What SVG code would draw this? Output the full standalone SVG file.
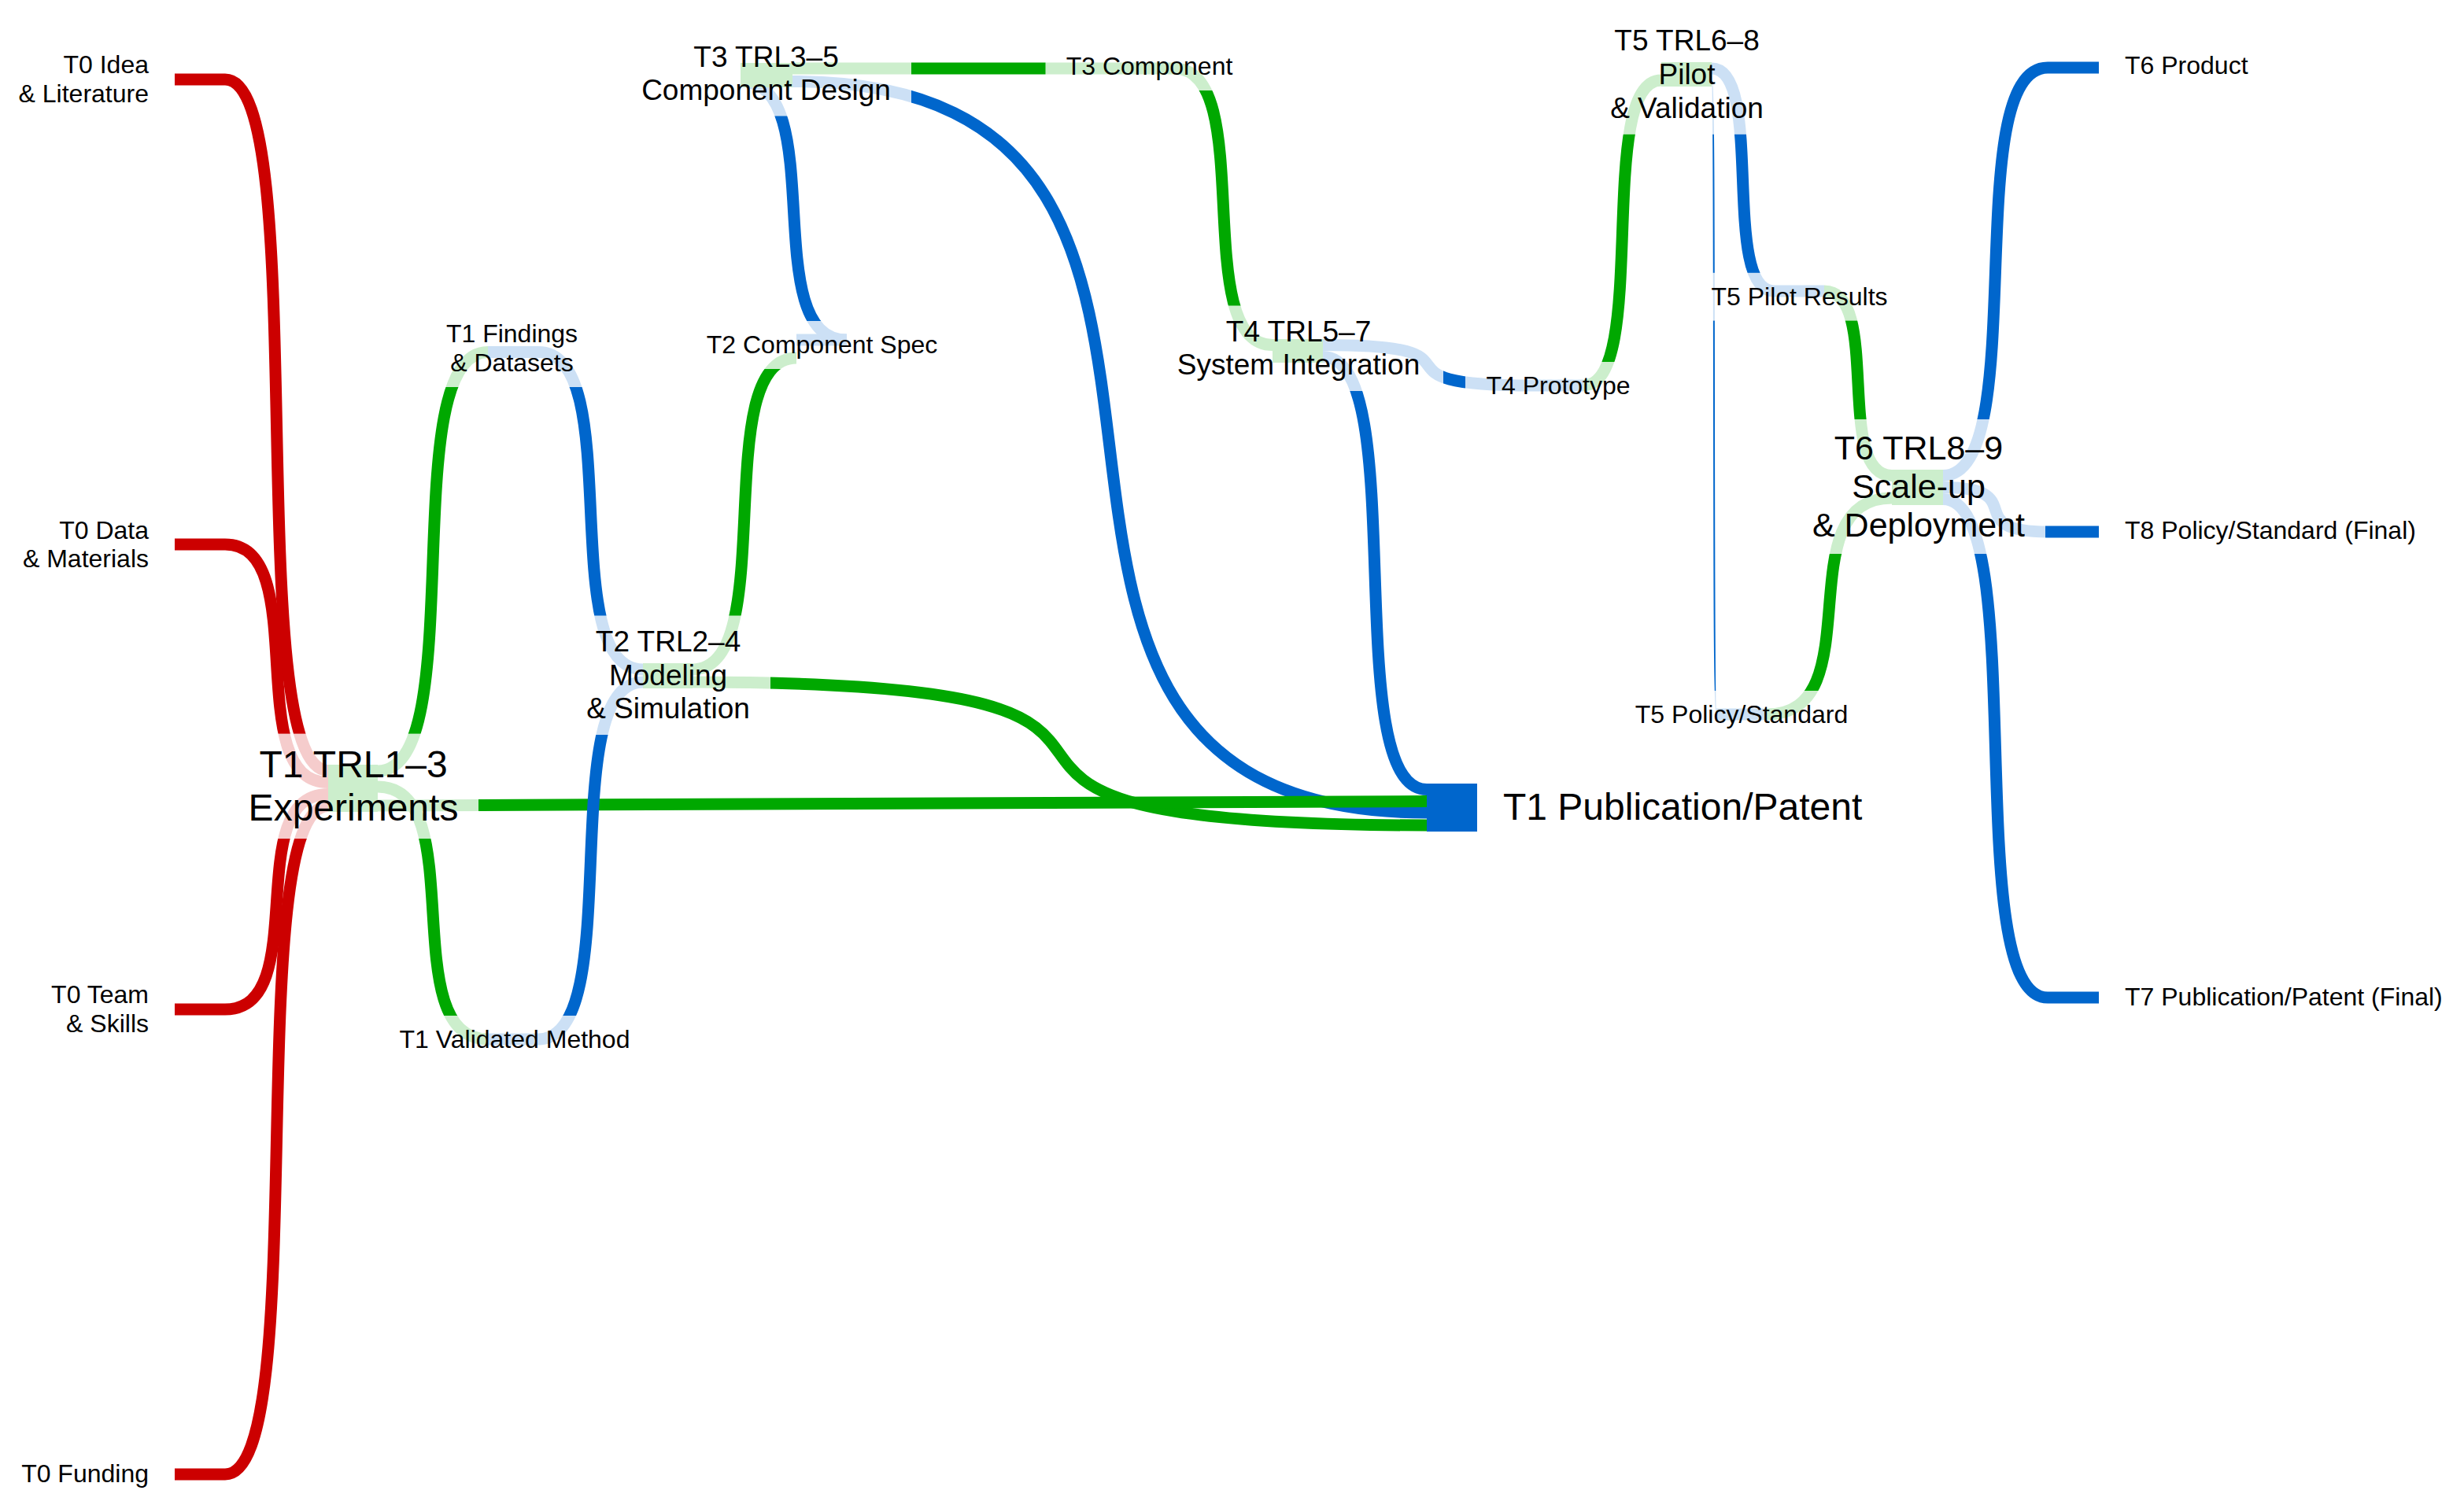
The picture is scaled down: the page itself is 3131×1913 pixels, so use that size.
<svg xmlns="http://www.w3.org/2000/svg" width="3131" height="1913" viewBox="0 0 3131 1913">
<style>
text { font-family: "Liberation Sans", Arial, Helvetica, sans-serif; fill: #000; }
.s { font-size: 32px; }
.m { font-size: 37px; }
.b { font-size: 48px; }
.b6 { font-size: 43px; }
.c { text-anchor: middle; }
.e { text-anchor: end; }
.lk { fill: none; stroke-width: 15; }
.thin { fill: none; stroke-width: 2; }
.r { stroke: #cc0000; }
.g { stroke: #00a800; }
.u { stroke: #0066cc; }
.nr { fill: #cc0000; }
.ng { fill: #00a800; }
.nu { fill: #0066cc; }
.bx { fill: #ffffff; fill-opacity: 0.8; }
</style>
<rect width="3131" height="1913" fill="#ffffff"/>
<g id="links">
  <path class="lk r" d="M286,101 C398.7,101 304.3,979.5 417,979.5"/>
  <path class="lk r" d="M286,692 C398.7,692 304.3,994.5 417,994.5"/>
  <path class="lk r" d="M286,1283 C398.7,1283 304.3,1009.5 417,1009.5"/>
  <path class="lk r" d="M286,1874 C398.7,1874 304.3,1024.5 417,1024.5"/>
  <path class="lk g" d="M480,980 C600.4,980 499.6,447.5 620,447.5"/>
  <path class="lk g" d="M480,1000 C600.4,1000 499.6,1321 620,1321"/>
  <path class="lk u" d="M1007,103.5 C1700.2,103.5 1119.8,1033 1813,1033"/>
  <path class="lk g" d="M880,867 C1682.4,867 1010.6,1049 1813,1049"/>
  <path class="lk g" d="M480,1024 C1146,1024 1146,1018.5 1813,1018.5"/>
  <path class="lk u" d="M684,447.5 C798.4,447.5 702.6,851 817,851"/>
  <path class="lk u" d="M684,1321 C798.4,1321 702.6,867 817,867"/>
  <path class="lk g" d="M880,851 C993.5,851 898.5,455 1012,455"/>
  <path class="lk u" d="M1076,432 C959.9,432 1057.1,103.5 941,103.5"/>
  <path class="lk g" d="M1007,87 L1428,87"/>
  <path class="lk g" d="M1492,87 C1599.5,87 1509.5,438.5 1617,438.5"/>
  <path class="lk u" d="M1681,438.5 C1910.6,438.5 1718.4,490 1948,490"/>
  <path class="lk u" d="M1681,453.5 C1794.5,453.5 1699.5,1003.5 1813,1003.5"/>
  <path class="lk g" d="M2012,490 C2097.1,490 2025.9,102 2111,102"/>
  <path class="lk u" d="M2175,87 C2242.9,87 2186.1,370 2254,370"/>
  <path class="thin u" d="M2175,96 C2180.2,96 2175.8,908 2181,908"/>
  <path class="lk g" d="M2318,370 C2392,370 2330,604.5 2404,604.5"/>
  <path class="lk g" d="M2245,908 C2381.7,908 2267.3,633 2404,633"/>
  <path class="lk u" d="M2469,604.5 C2583.4,604.5 2487.6,86 2602,86"/>
  <path class="lk u" d="M2469,619.5 C2583.4,619.5 2487.6,676 2602,676"/>
  <path class="lk u" d="M2469,634.5 C2583.4,634.5 2487.6,1268 2602,1268"/>
</g>
<g id="n-t0-idea">
  <rect class="nr" x="222" y="93.5" width="64" height="15"/>
  <text class="s e"><tspan x="189" y="93">T0 Idea</tspan><tspan x="189" y="129.5">&amp; Literature</tspan></text>
</g>
<g id="n-t0-data">
  <rect class="nr" x="222" y="684.5" width="64" height="15"/>
  <text class="s e"><tspan x="189" y="684.8">T0 Data</tspan><tspan x="189" y="721.4">&amp; Materials</tspan></text>
</g>
<g id="n-t0-team">
  <rect class="nr" x="222" y="1275.5" width="64" height="15"/>
  <text class="s e"><tspan x="189" y="1275">T0 Team</tspan><tspan x="189" y="1311.5">&amp; Skills</tspan></text>
</g>
<g id="n-t0-funding">
  <rect class="nr" x="222" y="1866.5" width="64" height="15"/>
  <text class="s e" x="189" y="1884.3">T0 Funding</text>
</g>
<g id="n-t1-experiments">
  <rect class="ng" x="417" y="972" width="63" height="60"/>
  <rect class="bx" x="290" y="932.6" width="318" height="133.4"/>
  <text class="b c"><tspan x="449" y="988">T1 TRL1–3</tspan><tspan x="449" y="1043">Experiments</tspan></text>
</g>
<g id="n-t1-findings">
  <rect class="nu" x="620" y="440" width="64" height="15"/>
  <rect class="bx" x="541" y="394" width="219" height="98"/>
  <text class="s c"><tspan x="650.5" y="435">T1 Findings</tspan><tspan x="650.5" y="472">&amp; Datasets</tspan></text>
</g>
<g id="n-t1-validated">
  <rect class="nu" x="620" y="1313.5" width="64" height="15"/>
  <rect class="bx" x="482" y="1291" width="344" height="61"/>
  <text class="s c" x="654" y="1332">T1 Validated Method</text>
</g>
<g id="n-t2-modeling">
  <rect class="ng" x="817" y="843" width="63" height="32"/>
  <rect class="bx" x="719" y="782.5" width="260" height="151.5"/>
  <text class="m c"><tspan x="849" y="828">T2 TRL2–4</tspan><tspan x="849" y="870.5">Modeling</tspan><tspan x="849" y="913">&amp; Simulation</tspan></text>
</g>
<g id="n-t2-spec">
  <rect class="nu" x="1012" y="424.5" width="64" height="15"/>
  <rect class="bx" x="872" y="408" width="345" height="61"/>
  <text class="s c" x="1044.5" y="449">T2 Component Spec</text>
</g>
<g id="n-t3-design">
  <rect class="ng" x="941" y="80" width="66" height="31"/>
  <rect class="bx" x="789" y="39.5" width="369" height="108"/>
  <text class="m c"><tspan x="973.5" y="85">T3 TRL3–5</tspan><tspan x="973.5" y="126.5">Component Design</tspan></text>
</g>
<g id="n-t3-component">
  <rect class="ng" x="1428" y="79.5" width="64" height="15"/>
  <rect class="bx" x="1328.5" y="54" width="264" height="61"/>
  <text class="s c" x="1460.5" y="95">T3 Component</text>
</g>
<g id="n-t4-integration">
  <rect class="ng" x="1617" y="431" width="64" height="30"/>
  <rect class="bx" x="1466" y="388.5" width="368" height="108.5"/>
  <text class="m c"><tspan x="1650" y="434">T4 TRL5–7</tspan><tspan x="1650" y="476">System Integration</tspan></text>
</g>
<g id="n-t4-prototype">
  <rect class="nu" x="1948" y="482.5" width="64" height="15"/>
  <rect class="bx" x="1862" y="460" width="236" height="61"/>
  <text class="s c" x="1980" y="501.3">T4 Prototype</text>
</g>
<g id="n-t5-pilot">
  <rect class="ng" x="2111" y="79" width="64" height="31"/>
  <rect class="bx" x="2019" y="18.5" width="249" height="152.3"/>
  <text class="m c"><tspan x="2143.5" y="64">T5 TRL6–8</tspan><tspan x="2143.5" y="107">Pilot</tspan><tspan x="2143.5" y="150">&amp; Validation</tspan></text>
</g>
<g id="n-t5-results">
  <rect class="nu" x="2254" y="362.5" width="64" height="15"/>
  <rect class="bx" x="2148.5" y="346.8" width="276" height="60.8"/>
  <text class="s c" x="2286.5" y="387.8">T5 Pilot Results</text>
</g>
<g id="n-t5-policy">
  <rect class="nu" x="2181" y="900.5" width="64" height="15"/>
  <rect class="bx" x="2052" y="878" width="322" height="61"/>
  <text class="s c" x="2213" y="919">T5 Policy/Standard</text>
</g>
<g id="n-t6-deployment">
  <rect class="ng" x="2404" y="597" width="65" height="45"/>
  <rect class="bx" x="2277" y="533" width="322" height="171"/>
  <text class="b6 c"><tspan x="2438" y="584">T6 TRL8–9</tspan><tspan x="2438" y="633">Scale-up</tspan><tspan x="2438" y="682">&amp; Deployment</tspan></text>
</g>
<g id="n-t6-product">
  <rect class="nu" x="2602" y="78.5" width="65" height="15"/>
  <text class="s" x="2700" y="94.4">T6 Product</text>
</g>
<g id="n-t8-policy-final">
  <rect class="nu" x="2602" y="668.5" width="65" height="15"/>
  <text class="s" x="2700" y="685">T8 Policy/Standard (Final)</text>
</g>
<g id="n-t7-publication-final">
  <rect class="nu" x="2602" y="1260.5" width="65" height="15"/>
  <text class="s" x="2700" y="1278">T7 Publication/Patent (Final)</text>
</g>
<g id="n-t1-publication">
  <rect class="nu" x="1813" y="996" width="64" height="61"/>
  <text class="b" x="1910" y="1042">T1 Publication/Patent</text>
</g>
</svg>
